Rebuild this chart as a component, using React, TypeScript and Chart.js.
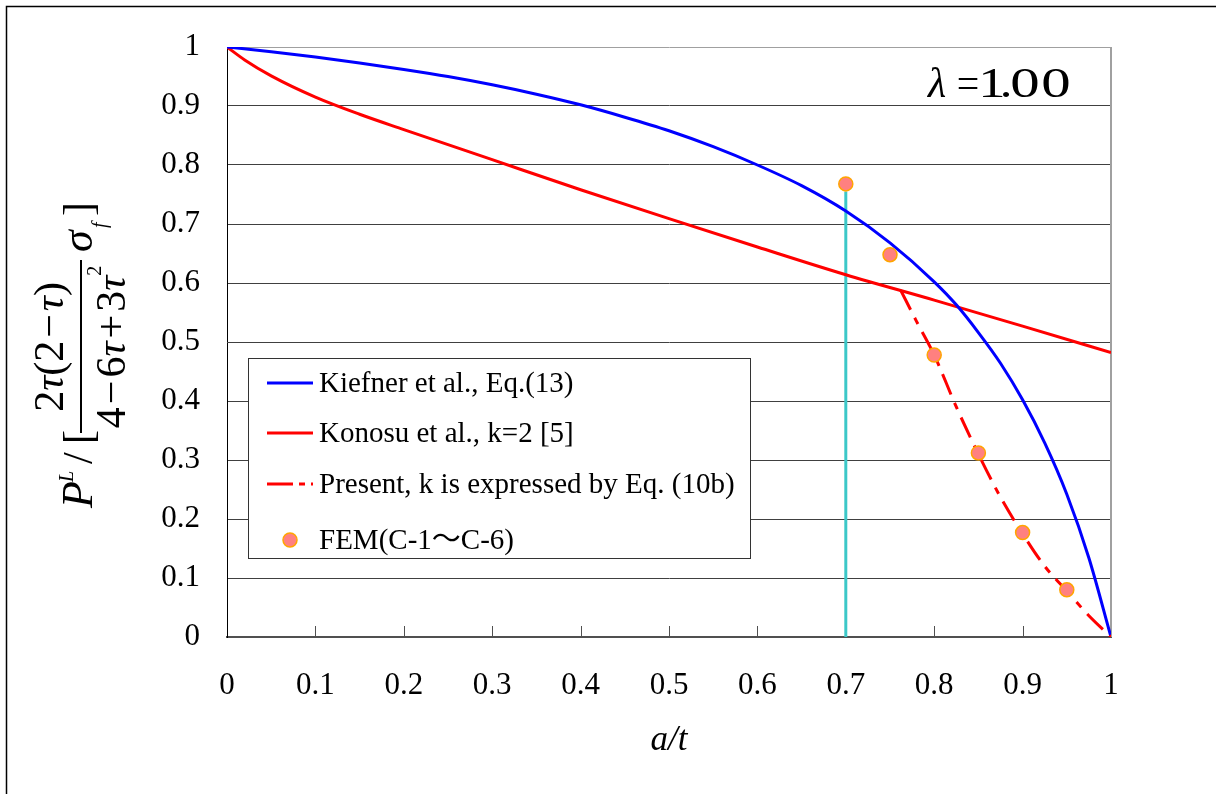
import { useEffect, useRef } from "react";
import { Chart, registerables } from "chart.js";

Chart.register(...registerables);

const SERIF = "'Liberation Serif', 'Times New Roman', 'Noto Sans CJK JP', serif";

// Kiefner et al., Eq.(13)
const KIEFNER_X = [0, 0.05, 0.1, 0.15, 0.2, 0.25, 0.3, 0.35, 0.4, 0.45, 0.5, 0.55, 0.6, 0.65, 0.7, 0.75, 0.8, 0.825, 0.85, 0.875, 0.9, 0.925, 0.95, 0.975, 1];
const KIEFNER_Y = [1, 0.992, 0.983, 0.973, 0.962, 0.95, 0.936, 0.92, 0.902, 0.881, 0.858, 0.831, 0.8, 0.765, 0.722, 0.668, 0.602, 0.563, 0.516, 0.464, 0.402, 0.329, 0.242, 0.134, 0];

// Konosu et al., k=2 [5]
const KONOSU_X = [0, 0.02, 0.05, 0.1, 0.15, 0.2, 0.3, 0.4, 0.5, 0.6, 0.7, 0.8, 0.9, 1];
const KONOSU_Y = [1, 0.978, 0.951, 0.915, 0.886, 0.86, 0.809, 0.758, 0.709, 0.661, 0.614, 0.571, 0.527, 0.482];

// Present, k is expressed by Eq. (10b)
const PRESENT_X = [0.762, 0.78, 0.8, 0.825, 0.85, 0.875, 0.9, 0.925, 0.95, 0.975, 1];
const PRESENT_Y = [0.588, 0.535, 0.478, 0.39, 0.31, 0.237, 0.175, 0.12, 0.078, 0.036, 0];

// FEM(C-1〜C-6)
const FEM_X = [0.7, 0.75, 0.8, 0.85, 0.9, 0.95];
const FEM_Y = [0.768, 0.648, 0.478, 0.312, 0.177, 0.08];

// vertical marker at a/t = 0.7
const MARK_X = [0.7, 0.7];
const MARK_Y = [0, 0.755];

const LABELS = [
  "Kiefner et al., Eq.(13)",
  "Konosu et al., k=2 [5]",
  "Present, k is expressed by Eq. (10b)",
  "FEM(C-1〜C-6)",
];

const LAMBDA_TEXT = "λ=1.00";
const X_TITLE = "a/t";

const pts = (xs: number[], ys: number[]) => xs.map((x, i) => ({ x, y: ys[i] }));
const fmt = (v: number) => String(Number(v.toFixed(1)));

type Part = [string, string, number?, number?];

function runWidth(ctx: CanvasRenderingContext2D, parts: Part[]) {
  let w = 0;
  for (const p of parts) {
    ctx.font = p[1];
    w += ctx.measureText(p[0]).width + (p[3] || 0);
  }
  return w;
}
function run(ctx: CanvasRenderingContext2D, u: number, v: number, parts: Part[]) {
  for (const p of parts) {
    ctx.font = p[1];
    ctx.fillText(p[0], u, v + (p[2] || 0));
    u += ctx.measureText(p[0]).width + (p[3] || 0);
  }
  return u;
}

function drawYTitle(ctx: CanvasRenderingContext2D) {
  const up = (s: number) => `${s}px ${SERIF}`;
  const it = (s: number) => `italic ${s}px ${SERIF}`;
  ctx.save();
  ctx.translate(0, 520);
  ctx.rotate(-Math.PI / 2);
  ctx.fillStyle = "#000";
  ctx.strokeStyle = "#000";
  ctx.textAlign = "left";
  ctx.textBaseline = "alphabetic";
  run(ctx, 12, 92, [["P", it(44)]]);
  run(ctx, 38, 73, [["L", it(20)]]);
  run(ctx, 56, 92, [["/", up(42)]]);
  run(ctx, 76, 92, [["[", up(42)]]);
  const num: Part[] = [["2", up(42)], ["τ", it(42)], ["(", up(42)], ["2", up(42), 0, 3], ["−", up(42), 0, 3], ["τ", it(42)], [")", up(42)]];
  const den: Part[] = [["4", up(42), 0, 3], ["−", up(42), 0, 3], ["6", up(42)], ["τ", it(42), 0, 3], ["+", up(42), 0, 3], ["3", up(42)], ["τ", it(42)], ["2", up(20), -24]];
  const c = 173;
  run(ctx, c - runWidth(ctx, num) / 2, 63, num);
  run(ctx, c - runWidth(ctx, den) / 2, 125, den);
  ctx.lineWidth = 2;
  ctx.beginPath();
  ctx.moveTo(87, 81);
  ctx.lineTo(260, 81);
  ctx.stroke();
  run(ctx, 268, 92, [["σ", it(44)]]);
  run(ctx, 292, 106, [["f", it(20)]]);
  run(ctx, 304, 92, [["]", up(42)]]);
  ctx.restore();
}

export default function App() {
  const ref = useRef<HTMLCanvasElement>(null);

  useEffect(() => {
    const canvas = ref.current!;

    const extras = {
      id: "extras",
      beforeDatasetsDraw(chart: any) {
        const ctx: CanvasRenderingContext2D = chart.ctx;
        const { right, top, bottom } = chart.chartArea;
        const xs = chart.scales.x;
        ctx.save();
        ctx.strokeStyle = "#a0a0a0";
        ctx.lineWidth = 2;
        ctx.beginPath();
        ctx.moveTo(right, top);
        ctx.lineTo(right, bottom);
        ctx.stroke();
        ctx.strokeStyle = "#505050";
        ctx.lineWidth = 1;
        for (let i = 1; i < 10; i++) {
          const px = Math.round(xs.getPixelForValue(i / 10)) + 0.5;
          ctx.beginPath();
          ctx.moveTo(px, bottom);
          ctx.lineTo(px, bottom - 11);
          ctx.stroke();
        }
        ctx.restore();
      },
      afterDraw(chart: any) {
        const ctx: CanvasRenderingContext2D = chart.ctx;
        const ds = chart.data.datasets;
        ctx.save();
        ctx.strokeStyle = "#000";
        ctx.lineWidth = 1.5;
        ctx.beginPath();
        ctx.moveTo(6.5, 800);
        ctx.lineTo(6.5, 6.5);
        ctx.lineTo(1220, 6.5);
        ctx.stroke();

        // legend
        const lx = 248.5, ly = 358.5, lw = 502, lh = 200;
        ctx.fillStyle = "#fff";
        ctx.fillRect(lx, ly, lw, lh);
        ctx.strokeStyle = "#333";
        ctx.lineWidth = 1;
        ctx.strokeRect(lx, ly, lw, lh);
        const rows = [383, 433, 484, 540];
        ctx.textAlign = "left";
        ctx.textBaseline = "middle";
        for (let i = 0; i < 4; i++) {
          const d = ds[i];
          const y = rows[i];
          if (i < 3) {
            ctx.strokeStyle = d.borderColor;
            ctx.lineWidth = 3;
            ctx.setLineDash(d.borderDash ? [26, 6, 6, 6] : []);
            ctx.beginPath();
            ctx.moveTo(267, y);
            ctx.lineTo(313, y);
            ctx.stroke();
            ctx.setLineDash([]);
          } else {
            ctx.fillStyle = d.backgroundColor;
            ctx.strokeStyle = d.borderColor;
            ctx.lineWidth = 1.5;
            ctx.beginPath();
            ctx.arc(290, y, 7, 0, Math.PI * 2);
            ctx.fill();
            ctx.stroke();
          }
          ctx.fillStyle = "#000";
          ctx.font = `29px ${SERIF}`;
          ctx.fillText(d.label, 319, y + 1);
        }

        // lambda annotation (wide glyphs like the reference)
        ctx.textBaseline = "alphabetic";
        ctx.textAlign = "center";
        ctx.fillStyle = "#000";
        const chars = Array.from(LAMBDA_TEXT);
        const centers = [937, 968, 992, 1006, 1025, 1056];
        const scales = [1.0, 0.95, 1.3, 1.2, 1.4, 1.4];
        chars.forEach((ch, i) => {
          ctx.save();
          ctx.translate(centers[i], 97);
          ctx.scale(scales[i], 1);
          ctx.font = i === 0 ? `italic 42px ${SERIF}` : `42px ${SERIF}`;
          ctx.fillText(ch, 0, 0);
          ctx.restore();
        });
        ctx.textAlign = "left";

        drawYTitle(ctx);
        ctx.restore();
      },
    };

    const chart = new Chart(canvas, {
      type: "line",
      data: {
        datasets: [
          {
            label: LABELS[0],
            data: pts(KIEFNER_X, KIEFNER_Y),
            borderColor: "#0000ff",
            borderWidth: 3,
            pointRadius: 0,
            cubicInterpolationMode: "monotone",
            order: 2,
          },
          {
            label: LABELS[1],
            data: pts(KONOSU_X, KONOSU_Y),
            borderColor: "#ff0000",
            borderWidth: 3,
            pointRadius: 0,
            cubicInterpolationMode: "monotone",
            order: 3,
          },
          {
            label: LABELS[2],
            data: pts(PRESENT_X, PRESENT_Y),
            borderColor: "#ff0000",
            borderWidth: 3,
            borderDash: [22, 9, 7, 9],
            pointRadius: 0,
            cubicInterpolationMode: "monotone",
            order: 1,
          },
          {
            label: LABELS[3],
            data: pts(FEM_X, FEM_Y),
            showLine: false,
            pointRadius: 7,
            pointBackgroundColor: "#ff8080",
            pointBorderColor: "#ffa500",
            pointBorderWidth: 1.5,
            backgroundColor: "#ff8080",
            borderColor: "#ffa500",
            order: 0,
          },
          {
            label: "marker",
            data: pts(MARK_X, MARK_Y),
            borderColor: "#3cc8c8",
            borderWidth: 3,
            pointRadius: 0,
            tension: 0,
            order: 4,
          },
        ] as any,
      },
      options: {
        animation: false,
        responsive: false,
        devicePixelRatio: 1,
        layout: { padding: { top: 47, right: 105, left: 0, bottom: 0 } },
        plugins: { legend: { display: false }, tooltip: { enabled: false } },
        scales: {
          x: {
            type: "linear",
            min: 0,
            max: 1,
            afterFit: (s: any) => { s.height = 157; },
            ticks: {
              stepSize: 0.1,
              callback: (v: any) => fmt(Number(v)),
              font: { family: SERIF, size: 31 },
              color: "#000",
              padding: 30,
              maxRotation: 0,
            },
            grid: { drawOnChartArea: false, drawTicks: false },
            border: { color: "#505050", width: 2 },
            title: {
              display: true,
              text: X_TITLE,
              font: { family: SERIF, size: 35, style: "italic" },
              color: "#000",
              padding: { top: 0, bottom: 32 },
            },
          },
          y: {
            type: "linear",
            min: 0,
            max: 1,
            afterFit: (s: any) => { s.width = 227; },
            ticks: {
              stepSize: 0.1,
              callback: (v: any) => fmt(Number(v)),
              font: { family: SERIF, size: 31 },
              color: "#000",
              padding: 27,
            },
            grid: {
              drawTicks: false,
              color: (c: any) => (c.tick && c.tick.value >= 0.999 ? "#a0a0a0" : "#404040"),
              lineWidth: 1,
            },
            border: { color: "#000", width: 1 },
          },
        },
      } as any,
      plugins: [extras],
    });

    return () => chart.destroy();
  }, []);

  return (
    <canvas
      ref={ref}
      width={1216}
      height={794}
      style={{ position: "absolute", left: 0, top: 0, width: 1216, height: 794 }}
    />
  );
}
